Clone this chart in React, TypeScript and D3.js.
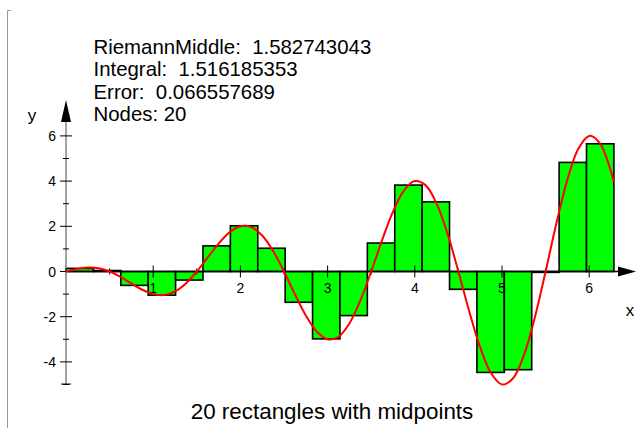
import React from "react";
import * as d3 from "d3";

// Riemann sum of f(x) = x·cos(πx) on [0, 2π] with 20 midpoint rectangles
const xMin = 0;
const xMax = 2 * Math.PI;
const rectHeights = [
  0.138, 0.043, -0.614, -1.046, -0.378, 1.134, 2.024, 1.029, -1.362, -2.981,
  -1.950, 1.260, 3.824, 3.081, -0.788, -4.466, -4.345, -0.038, 4.827, 5.651,
];
const curveX = [
  0, 0.125, 0.25, 0.375, 0.5, 0.625, 0.75, 0.875, 1, 1.125, 1.25, 1.375, 1.5,
  1.625, 1.75, 1.875, 2, 2.125, 2.25, 2.375, 2.5, 2.625, 2.75, 2.875, 3, 3.125,
  3.25, 3.375, 3.5, 3.625, 3.75, 3.875, 4, 4.125, 4.25, 4.375, 4.5, 4.625, 4.75,
  4.875, 5, 5.125, 5.25, 5.375, 5.5, 5.625, 5.75, 5.875, 6, 6.125, 6.25, 6.2832,
];
const curveY = [
  0, 0.116, 0.177, 0.144, 0, -0.239, -0.530, -0.808, -1, -1.039, -0.884, -0.526,
  0, 0.622, 1.237, 1.732, 2, 1.963, 1.591, 0.909, 0, -1.005, -1.945, -2.656, -3,
  -2.887, -2.298, -1.292, 0, 1.387, 2.652, 3.580, 4, 3.811, 3.005, 1.674, 0,
  -1.770, -3.359, -4.504, -5, -4.735, -3.712, -2.057, 0, 2.153, 4.066, 5.428, 6,
  5.659, 4.419, 3.957,
];
const xTicks = [1, 2, 3, 4, 5, 6];
const xMinorTicks = [0.5, 1.5, 2.5, 3.5, 4.5, 5.5];
const yTicks = [-4, -2, 0, 2, 4, 6];
const yMinorTicks = [-5, -3, -1, 1, 3, 5];
const infoLines = [
  "RiemannMiddle:  1.582743043",
  "Integral:  1.516185353",
  "Error:  0.066557689",
  "Nodes: 20",
];
const caption = "20 rectangles with midpoints";

const W = 636;
const H = 428;
const font = "'Liberation Sans', Arial, Helvetica, sans-serif";

export default function App() {
  const x = d3.scaleLinear().domain([xMin, xMax]).range([66, 613.9]);
  const y = d3.scaleLinear().domain([0, 6]).range([271.5, 135.9]);
  const n = rectHeights.length;
  const dx = (xMax - xMin) / n;

  const line = d3
    .line<number>()
    .x((_, i) => x(curveX[i]))
    .y((d) => y(d))
    .curve(d3.curveCatmullRom);

  const x0 = x(0);
  const y0 = y(0);
  const axisColor = "#666";

  return (
    <svg
      width={W}
      height={H}
      style={{ position: "absolute", left: 0, top: 0, background: "#fff" }}
      fontFamily={font}
    >
      {/* frame corner */}
      <path d="M11,10.5 H7.5 V428" fill="none" stroke="#999" strokeWidth={1} />

      {/* rectangles */}
      {rectHeights.map((h, i) => {
        const xl = x(xMin + i * dx);
        const xr = x(xMin + (i + 1) * dx);
        const yt = y(Math.max(h, 0));
        const yb = y(Math.min(h, 0));
        return (
          <rect
            key={i}
            x={xl}
            y={yt}
            width={xr - xl}
            height={Math.max(yb - yt, 0.01)}
            fill="#00ff00"
            stroke="#000"
            strokeWidth={1.6}
          />
        );
      })}

      {/* x axis */}
      <line x1={x0} x2={619} y1={y0} y2={y0} stroke="#000" strokeWidth={1.6} />
      <path d={`M618,${y0 - 5} L636,${y0} L618,${y0 + 5} Z`} fill="#000" />
      {xTicks.map((t) => (
        <g key={t}>
          <line x1={x(t)} x2={x(t)} y1={y0 - 6} y2={y0 + 6} stroke="#000" strokeWidth={1} />
          <text x={x(t)} y={y0 + 21} textAnchor="middle" fontSize={14} fill="#000">
            {t}
          </text>
        </g>
      ))}
      {xMinorTicks.map((t) => (
        <line key={t} x1={x(t)} x2={x(t)} y1={y0 - 3} y2={y0 + 3} stroke="#000" strokeWidth={1} />
      ))}
      <text x={630} y={316} textAnchor="middle" fontSize={17} fill="#000">
        x
      </text>

      {/* y axis */}
      <line x1={x0} x2={x0} y1={y(-4.98)} y2={118} stroke={axisColor} strokeWidth={1.2} />
      <path d={`M${x0 - 5},122 L${x0},100 L${x0 + 5},122 Z`} fill="#000" />
      {yTicks.map((t) => (
        <g key={t}>
          {t !== 0 && (
            <line x1={x0 - 6} x2={x0 + 6} y1={y(t)} y2={y(t)} stroke="#000" strokeWidth={1} />
          )}
          {t === 0 && (
            <line x1={x0 - 6} x2={x0} y1={y(t)} y2={y(t)} stroke="#000" strokeWidth={1} />
          )}
          <text x={x0 - 10} y={y(t) + 5} textAnchor="end" fontSize={14} fill="#000">
            {t}
          </text>
        </g>
      ))}
      {yMinorTicks.map((t) => (
        <line key={t} x1={x0 - 3} x2={x0 + 3} y1={y(t)} y2={y(t)} stroke="#000" strokeWidth={1} />
      ))}
      <line x1={x0 - 5} x2={x0 + 5} y1={y(-4.98)} y2={y(-4.98)} stroke="#000" strokeWidth={1} />
      <text x={32} y={121} textAnchor="middle" fontSize={17} fill="#000">
        y
      </text>

      {/* function curve */}
      <path d={line(curveY) ?? ""} fill="none" stroke="#ff0000" strokeWidth={2} />

      {/* summary text */}
      {infoLines.map((s, i) => (
        <text
          key={i}
          x={93.5}
          y={54 + i * 22.3}
          fontSize={20.4}
          fill="#000"
          style={{ whiteSpace: "pre" }}
        >
          {s}
        </text>
      ))}
      <text x={332} y={419} textAnchor="middle" fontSize={22.4} fill="#000">
        {caption}
      </text>
    </svg>
  );
}
